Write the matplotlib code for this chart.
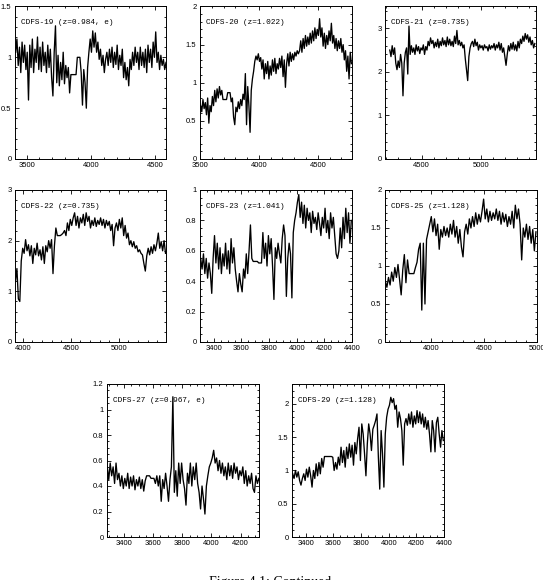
import numpy as np
import matplotlib.pyplot as plt
from matplotlib.ticker import MultipleLocator, FuncFormatter

# Rest-frame spectra of the CDFS galaxies (Figure 4.1, continued).

NAMES = ["CDFS-19 (z=0.984, e)", "CDFS-20 (z=1.022)", "CDFS-21 (z=0.735)",
         "CDFS-22 (z=0.735)", "CDFS-23 (z=1.041)", "CDFS-25 (z=1.128)",
         "CDFS-27 (z=0.967, e)", "CDFS-29 (z=1.128)"]

WAVE_START = [3415, 3505, 4235, 3925, 3305, 3565, 3285, 3305]
WAVE_STEP = [10, 10, 10, 15, 10, 15, 10, 10]

FLUX_19 = [1.05, 1.18, 0.92, 1.10, 0.85, 1.15, 0.95, 1.12, 0.88, 1.05,
           0.58, 1.12, 0.90, 1.18, 0.85, 1.08, 0.95, 1.20, 0.88, 1.10,
           0.86, 1.15, 0.92, 1.05, 0.85, 1.12, 0.90, 1.08, 0.80, 0.62,
           1.05, 1.31, 0.75, 1.02, 0.72, 0.95, 0.78, 1.05, 0.74, 0.92,
           0.80, 0.90, 0.65, 0.83, 0.83, 0.83, 0.83, 0.83, 1.00, 1.00,
           1.00, 0.85, 0.53, 0.88, 0.75, 0.50, 0.90, 1.05, 1.18, 1.05,
           1.26, 1.10, 1.24, 1.05, 1.15, 0.98, 1.08, 0.92, 1.02, 0.85,
           0.98, 1.05, 0.92, 1.08, 0.95, 1.10, 0.90, 1.05, 0.93, 1.12,
           0.88, 1.02, 0.92, 1.08, 0.80, 0.95, 0.78, 0.90, 0.72, 0.98,
           0.88, 1.05, 0.92, 1.10, 0.95, 1.05, 0.88, 1.10, 0.92, 1.05,
           0.90, 1.08, 0.85, 1.12, 0.95, 1.08, 0.90, 1.15, 1.00, 1.25,
           0.95, 1.05, 0.88, 1.02, 0.92, 0.98, 0.88, 0.95]

FLUX_20 = [0.70, 0.62, 0.78, 0.66, 0.74, 0.58, 0.80, 0.47, 0.70, 0.62,
           0.82, 0.70, 0.90, 0.75, 0.92, 0.80, 0.95, 0.84, 0.90, 0.78,
           0.78, 0.78, 0.78, 0.87, 0.87, 0.87, 0.75, 0.80, 0.55, 0.45,
           0.68, 0.62, 0.75, 0.66, 0.78, 0.70, 0.85, 0.78, 1.12, 0.45,
           0.95, 0.70, 0.35, 0.90, 1.05, 1.15, 1.28, 1.35, 1.30, 1.38,
           1.28, 1.33, 1.18, 1.30, 1.05, 1.25, 1.12, 1.28, 1.05, 1.22,
           1.10, 1.30, 1.15, 1.32, 1.12, 1.25, 1.18, 1.32, 1.20, 1.35,
           1.08, 1.30, 0.94, 1.25, 1.38, 1.22, 1.40, 1.28, 1.38, 1.30,
           1.40, 1.35, 1.42, 1.38, 1.42, 1.55, 1.40, 1.58, 1.45, 1.62,
           1.48, 1.60, 1.50, 1.65, 1.52, 1.68, 1.55, 1.72, 1.58, 1.70,
           1.62, 1.84, 1.60, 1.72, 1.48, 1.65, 1.45, 1.62, 1.50, 1.68,
           1.55, 1.78, 1.52, 1.62, 1.45, 1.58, 1.42, 1.55, 1.45, 1.58,
           1.40, 1.50, 1.30, 1.42, 1.15, 1.35, 1.05, 1.40, 1.25]

FLUX_21 = [2.50, 2.35, 2.60, 2.40, 2.55, 2.20, 2.05, 2.25, 2.10, 2.40,
           2.20, 1.45, 2.20, 2.45, 2.55, 1.95, 3.05, 2.40, 2.60, 2.45,
           2.55, 2.40, 2.62, 2.48, 2.58, 2.42, 2.55, 2.50, 2.62, 2.40,
           2.58, 2.50, 2.70, 2.60, 2.78, 2.65, 2.72, 2.55, 2.68, 2.58,
           2.75, 2.55, 2.70, 2.60, 2.78, 2.62, 2.72, 2.58, 2.80, 2.62,
           2.75, 2.60, 2.70, 2.58, 2.82, 2.65, 2.95, 2.62, 2.72, 2.60,
           2.68, 2.55, 2.62, 2.30, 2.05, 1.80, 2.35, 2.55, 2.65, 2.70,
           2.58, 2.75, 2.60, 2.68, 2.50, 2.62, 2.55, 2.60, 2.50, 2.62,
           2.55, 2.58, 2.48, 2.62, 2.52, 2.60, 2.55, 2.65, 2.50, 2.62,
           2.55, 2.68, 2.50, 2.65, 2.45, 2.55, 2.35, 2.15, 2.40, 2.60,
           2.48, 2.65, 2.52, 2.68, 2.50, 2.62, 2.48, 2.70, 2.55, 2.75,
           2.65, 2.82, 2.70, 2.88, 2.75, 2.85, 2.68, 2.80, 2.62, 2.72,
           2.55, 2.65]

FLUX_22 = [1.20, 1.45, 0.85, 0.80, 1.60, 1.85, 1.75, 2.02, 1.80, 1.92,
           1.70, 1.90, 1.55, 1.85, 1.72, 1.95, 1.70, 1.82, 1.62, 1.88,
           1.55, 1.90, 1.78, 2.00, 1.85, 2.02, 1.35, 1.90, 2.25, 2.10,
           2.10, 2.10, 2.12, 2.15, 2.20, 2.10, 2.35, 2.20, 2.42, 2.30,
           2.45, 2.55, 2.30, 2.48, 2.25, 2.45, 2.35, 2.52, 2.30, 2.55,
           2.38, 2.48, 2.25, 2.40, 2.30, 2.45, 2.28, 2.40, 2.32, 2.45,
           2.30, 2.42, 2.25, 2.40, 2.30, 2.38, 2.20, 2.32, 1.90, 2.25,
           2.35, 2.20, 2.42, 2.25, 2.45, 2.10, 2.30, 2.05, 2.15, 1.92,
           2.00, 1.88, 1.98, 1.85, 1.90, 1.78, 1.82, 1.75, 1.72, 1.55,
           1.40, 1.70, 1.85, 1.72, 1.88, 1.75, 1.92, 1.80, 1.95, 2.15,
           1.85, 1.98, 1.80, 2.00, 1.75]

FLUX_23 = [0.55, 0.48, 0.58, 0.45, 0.55, 0.42, 0.52, 0.45, 0.32, 0.55,
           0.70, 0.52, 0.65, 0.48, 0.62, 0.45, 0.58, 0.50, 0.65, 0.48,
           0.60, 0.45, 0.68, 0.52, 0.62, 0.48, 0.40, 0.33, 0.45, 0.38,
           0.33, 0.48, 0.42, 0.58, 0.45, 0.60, 0.77, 0.55, 0.53, 0.53,
           0.53, 0.53, 0.52, 0.52, 0.52, 0.72, 0.55, 0.65, 0.50, 0.70,
           0.58, 0.68, 0.50, 0.28, 0.62, 0.55, 0.65, 0.58, 0.52, 0.68,
           0.77, 0.70, 0.30, 0.55, 0.65, 0.58, 0.29, 0.72, 0.80, 0.85,
           0.92, 0.97, 0.82, 0.92, 0.78, 0.90, 0.75, 0.88, 0.80, 0.85,
           0.72, 0.86, 0.78, 0.82, 0.74, 0.85, 0.78, 0.70, 0.82, 0.75,
           0.88, 0.72, 0.80, 0.68, 0.85, 0.75, 0.82, 0.70, 0.58, 0.55,
           0.60, 0.75, 0.62, 0.82, 0.68, 0.88, 0.72, 0.85, 0.65, 0.80]

FLUX_25 = [0.80, 0.72, 0.85, 0.75, 0.92, 0.80, 0.98, 0.85, 1.02, 0.82,
           0.62, 0.95, 1.15, 0.78, 1.08, 0.90, 0.90, 0.90, 0.90, 0.98,
           1.05, 1.22, 1.30, 0.42, 1.30, 0.50, 1.35, 1.45, 1.55, 1.65,
           1.45, 1.62, 1.40, 1.55, 1.22, 1.48, 1.38, 1.52, 1.40, 1.50,
           1.38, 1.55, 1.42, 1.60, 1.38, 1.52, 1.30, 1.48, 1.25, 1.12,
           1.45, 1.55, 1.42, 1.62, 1.50, 1.65, 1.52, 1.70, 1.55, 1.68,
           1.58, 1.72, 1.88, 1.62, 1.75, 1.58, 1.72, 1.60, 1.70, 1.62,
           1.75, 1.60, 1.72, 1.55, 1.70, 1.58, 1.68, 1.52, 1.65, 1.55,
           1.72, 1.50, 1.80, 1.62, 1.75, 1.55, 1.08, 1.50, 1.38, 1.55,
           1.35, 1.52, 1.30, 1.48, 1.20, 1.45]

FLUX_27 = [0.55, 0.45, 0.58, 0.48, 0.55, 0.42, 0.58, 0.45, 0.50, 0.40,
           0.48, 0.38, 0.46, 0.40, 0.50, 0.38, 0.47, 0.40, 0.48, 0.37,
           0.45, 0.40, 0.47, 0.38, 0.45, 0.36, 0.44, 0.48, 0.48, 0.48,
           0.46, 0.46, 0.46, 0.42, 0.48, 0.40, 0.48, 0.28, 0.45, 0.38,
           0.50, 0.40, 0.28, 0.45, 0.55, 1.10, 0.35, 0.52, 0.32, 0.58,
           0.42, 0.58, 0.45, 0.38, 0.25, 0.50, 0.42, 0.58, 0.40, 0.55,
           0.45, 0.58, 0.42, 0.35, 0.22, 0.40, 0.30, 0.18, 0.40, 0.48,
           0.55, 0.58, 0.62, 0.68, 0.58, 0.62, 0.52, 0.60, 0.50, 0.58,
           0.48, 0.55, 0.45, 0.58, 0.48, 0.56, 0.46, 0.58, 0.50, 0.55,
           0.45, 0.52, 0.48, 0.55, 0.42, 0.52, 0.40, 0.48, 0.42, 0.50,
           0.38, 0.35, 0.48, 0.42, 0.46]

FLUX_29 = [0.95, 0.88, 1.00, 0.90, 0.98, 0.85, 0.78, 0.88, 0.95, 0.85,
           1.02, 0.90, 1.05, 0.92, 0.75, 1.00, 0.88, 1.10, 0.92, 1.12,
           0.95, 1.18, 1.05, 1.21, 1.21, 1.21, 1.21, 1.21, 1.21, 1.20,
           1.00, 1.12, 1.02, 1.20, 1.08, 1.35, 1.12, 1.30, 1.05, 1.35,
           1.18, 1.40, 1.20, 1.38, 1.08, 1.42, 1.25, 1.48, 1.65, 1.15,
           1.70, 1.55, 1.25, 0.92, 1.40, 1.70, 1.55, 1.30, 1.62, 1.68,
           1.75, 1.85, 1.20, 0.72, 1.60, 1.25, 0.75, 1.55, 1.80, 1.92,
           1.98, 2.10, 2.02, 2.08, 1.92, 1.98, 1.65, 1.88, 1.78, 1.60,
           1.08, 1.70, 1.78, 1.68, 1.85, 1.70, 1.88, 1.65, 1.82, 1.70,
           1.90, 1.72, 1.88, 1.70, 1.85, 1.65, 1.80, 1.62, 1.75, 1.55,
           1.28, 1.75, 1.60, 1.28, 1.72, 1.80, 1.55, 1.35, 1.60, 1.45]

FLUXES = [FLUX_19, FLUX_20, FLUX_21, FLUX_22, FLUX_23, FLUX_25, FLUX_27, FLUX_29]

# axis limits and tick spacing of each panel
XLIMS = [(3410, 4585), (3500, 4790), (4195, 5455), (3920, 5490),
         (3300, 4400), (3562, 5000), (3283, 4326), (3300, 4400)]
YLIMS = [(0, 1.5), (0, 2), (0, 3.5), (0, 3), (0, 1), (0, 2), (0, 1.2), (0, 2.3)]
X_TICKS = [(500, 100), (500, 100), (500, 100), (500, 100),
           (200, 50), (500, 100), (200, 50), (200, 50)]
Y_TICKS = [(0.5, 0.1), (0.5, 0.1), (1, 0.2), (1, 0.2),
           (0.2, 0.05), (0.5, 0.1), (0.2, 0.05), (0.5, 0.1)]

# panel frames in pixels: left, top, right, bottom
W, H = 543, 580
FRAMES = [(15, 6.5, 166, 159), (200, 6.5, 352, 159), (385, 6.5, 536, 159),
          (15, 190, 166, 342), (200, 190, 352, 342), (385, 190, 537, 342),
          (107, 384, 259, 537), (292, 384, 444, 537)]

fig = plt.figure(figsize=(W / 100, H / 100), dpi=100)

label_fmt = FuncFormatter(lambda v, pos: "%g" % v)

for i in range(len(NAMES)):
    left, top, right, bottom = FRAMES[i]
    ax = fig.add_axes([left / W, 1 - bottom / H, (right - left) / W, (bottom - top) / H])

    flux = np.array(FLUXES[i])
    wave = WAVE_START[i] + WAVE_STEP[i] * np.arange(len(flux))
    ax.plot(wave, flux, color="black", linewidth=0.95)

    ax.set_xlim(XLIMS[i])
    ax.set_ylim(YLIMS[i])
    ax.xaxis.set_major_locator(MultipleLocator(X_TICKS[i][0]))
    ax.xaxis.set_minor_locator(MultipleLocator(X_TICKS[i][1]))
    ax.yaxis.set_major_locator(MultipleLocator(Y_TICKS[i][0]))
    ax.yaxis.set_minor_locator(MultipleLocator(Y_TICKS[i][1]))
    ax.xaxis.set_major_formatter(label_fmt)
    ax.yaxis.set_major_formatter(label_fmt)

    ax.tick_params(which="both", direction="in", top=True, right=True, width=0.6)
    ax.tick_params(which="major", length=3.2, pad=2.5, labelsize=5.5)
    ax.tick_params(which="minor", length=1.6)
    for label in ax.get_xticklabels() + ax.get_yticklabels():
        label.set_family("Liberation Sans")
    for spine in ax.spines.values():
        spine.set_linewidth(0.7)

    ax.text(0.04, 0.892, NAMES[i], transform=ax.transAxes, ha="left", va="center",
            fontsize=5.6, family="Liberation Mono")

# caption, cut off at the bottom edge as in the page scan
fig.text(272 / W, 1 - 576 / H, "Figure 4.1: Continued.", ha="center", va="top",
         fontsize=10, family="Liberation Serif")

fig.savefig("out.png", dpi=100)
